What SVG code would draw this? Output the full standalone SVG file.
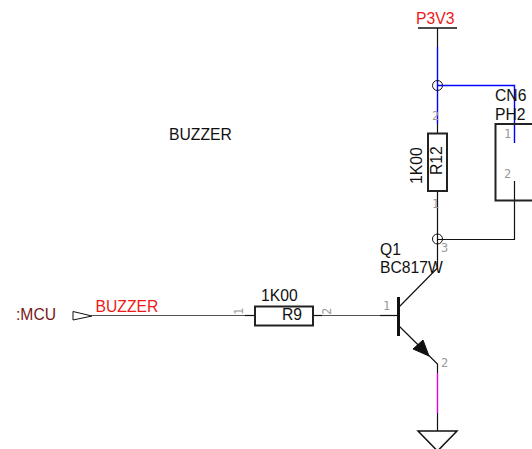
<svg xmlns="http://www.w3.org/2000/svg" width="532" height="449" viewBox="0 0 532 449">
<style>
text{font-family:"Liberation Sans",Arial,sans-serif;font-size:15.7px;fill:#111}
.red{fill:#f01818}
.pin{font-family:"DejaVu Sans Mono","Liberation Mono",monospace;font-size:12px;fill:#999}
.w{fill:none;stroke:#111;stroke-width:1.2}
.g{fill:none;stroke:#555;stroke-width:1}
.b{fill:none;stroke:#0000ff;stroke-width:1.400}
.s{fill:none;stroke:#222;stroke-width:2}
</style>
<rect width="532" height="449" fill="#fff"/>
<g id="connectors">
<path class="w" d="M437.500 28V47"/>
<path class="b" d="M437.500 47V124"/>
<path class="b" d="M437.500 85.500H514.500V143"/>
<path class="w" d="M437.500 124V133"/>
<path class="w" d="M437.500 191V268L399 307"/>
<path class="w" d="M437.500 239.500H514.500V181"/>
<path class="g" d="M92 315.500H245"/>
<path class="w" d="M245 315.500H255"/>
<path class="w" d="M313 315.500H322"/>
<path class="g" d="M322 315.500H380"/>
<path class="w" d="M380 315.500H398"/>
<path class="w" d="M399 326L437.500 364V373"/>
<path d="M437.500 373V413" fill="none" stroke="#e000e0" stroke-width="1.400"/>
<path class="w" d="M437.500 413V431"/>
<circle cx="437.500" cy="85.500" r="5" fill="none" stroke="#111"/>
<circle cx="437.500" cy="239" r="5" fill="none" stroke="#111"/>
</g>
<g id="P3V3"><path d="M418 28H457" fill="none" stroke="#111" stroke-width="1.500"/><text class="red" x="416" y="24">P3V3</text></g>
<g id="CN6">
<path d="M532 124H495.500V200.500H532" class="s"/>
<text x="495" y="101">CN6</text><text x="495" y="120">PH2</text>
<text class="pin" x="504" y="138">1</text><text class="pin" x="504" y="178">2</text>
</g>
<g id="R12">
<rect x="428" y="133.500" width="19" height="57.500" fill="#fff" class="s"/>
<text transform="translate(442,175) rotate(-90)">R12</text>
<text transform="translate(422,184) rotate(-90)">1K00</text>
<text class="pin" x="432" y="120">2</text>
<text class="pin" x="432" y="208">1</text>
</g>
<g id="Q1">
<text x="380" y="255">Q1</text><text x="380" y="273">BC817W</text>
<path d="M398.500 297V336" fill="none" stroke="#111" stroke-width="3"/>
<path d="M413 349L423 340L429 356Z" fill="#111" stroke="#111"/>
<text class="pin" x="383" y="310">1</text>
<text class="pin" x="441" y="252">3</text>
<text class="pin" x="441" y="367">2</text>
</g>
<g id="GND"><path d="M418 431H457L437.500 451Z" fill="#fff" stroke="#111" stroke-width="1.500"/></g>
<g id="R9">
<rect x="255" y="306.500" width="58" height="19" fill="#fff" class="s"/>
<text x="282" y="320">R9</text><text x="261" y="300.500">1K00</text>
<text class="pin" transform="translate(243,315) rotate(-90)">1</text>
<text class="pin" transform="translate(331,315) rotate(-90)">2</text>
</g>
<g id="MCU">
<path d="M73 311.500L92 316L73 320Z" fill="#fff" stroke="#111"/>
<text x="16" y="320" style="fill:#7a1515">:MCU</text>
<text class="red" x="95.500" y="311.500">BUZZER</text>
</g>
<g id="title"><text x="169" y="140">BUZZER</text></g>
</svg>
